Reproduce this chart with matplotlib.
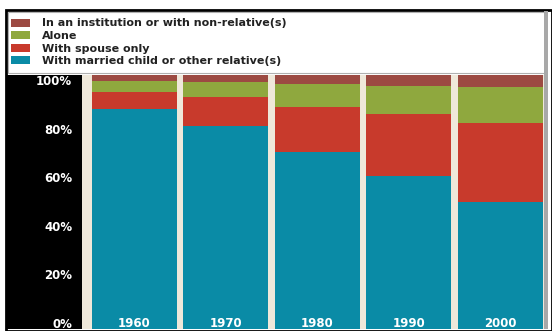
import numpy as np
import matplotlib
matplotlib.use('Agg')
from matplotlib import pyplot as plt
from matplotlib.patches import Rectangle

# living arrangements, shares in percent
years = ['1960', '1970', '1980', '1990', '2000']
married_child = [86.5, 79.9, 69.6, 60.2, 50.1]
spouse_only = [6.9, 11.4, 17.9, 24.3, 31.1]
alone = [4.4, 6.1, 9.0, 11.2, 14.0]
institution = [2.2, 2.6, 3.5, 4.3, 4.8]

labels = ['With married child or other relative(s)', 'With spouse only',
          'Alone', 'In an institution or with non-relative(s)']
colors = ['#0a8ba6', '#c83a2c', '#8fa83e', '#9c4a42']
yticks = [0, 20, 40, 60, 80, 100]

W, H = 552, 331
fig = plt.figure(figsize=(W / 100, H / 100), dpi=100)
fig.patch.set_facecolor('white')


def frac(x0, y0, x1, y1):
    # pixel box (top-left origin) -> figure fraction rect
    return [x0 / W, 1 - y1 / H, (x1 - x0) / W, (y1 - y0) / H]


# outer frame
fig.patches.append(Rectangle((6 / W, 0), (W - 6) / W, 1 - 10 / H, transform=fig.transFigure,
                             facecolor='none', edgecolor='black', lw=2.0, zorder=0))
# legend box
fig.patches.append(Rectangle((8 / W, 1 - 73 / H), 537 / W, 61 / H, transform=fig.transFigure,
                             facecolor='white', edgecolor='#b0b0b0', lw=0.8, zorder=1))
fig.patches.append(Rectangle((544 / W, 2 / H), 4 / W, 1 - 13 / H, transform=fig.transFigure,
                             facecolor='#a8a8a8', edgecolor='none', zorder=1))

# black label strip
lab = fig.add_axes(frac(7, 75, 82, 329))
lab.set_facecolor('black')
lab.set_xlim(0, 1)
lab.set_ylim(-2.06, 102.77)
lab.set_xticks([])
lab.set_yticks([])
for s in lab.spines.values():
    s.set_visible(False)
for v in yticks:
    lab.text(0.87, v, f'{v}%', transform=lab.get_yaxis_transform(), ha='right', va='center',
             color='white', fontsize=8.5, fontweight='bold')

# bars
ax = fig.add_axes(frac(82, 75, 545, 329))
ax.set_facecolor('#efe8da')
x = np.arange(len(years))
series = [married_child, spouse_only, alone, institution]
bottom = np.zeros(len(years))
handles = []
for vals, col, lbl in zip(series, colors, labels):
    vals = np.array(vals)
    b = ax.bar(x, vals, bottom=bottom, width=0.928, color=col, label=lbl, linewidth=0)
    handles.append(b)
    bottom += vals
ax.set_xlim(-0.568, 4.487)
ax.set_ylim(0, 100)
ax.set_xticks([])
ax.set_yticks([])
for s in ax.spines.values():
    s.set_visible(False)
for xi, yr in zip(x, years):
    ax.text(xi, 2.0, yr, ha='center', va='center', color='white', fontsize=8.5, fontweight='bold')

leg = fig.legend(handles[::-1], labels[::-1], loc='upper left',
                 bbox_to_anchor=(11 / W, 1 - 18.5 / H), frameon=False,
                 prop={'weight': 'bold', 'size': 8},
                 handlelength=1.7, handleheight=0.7, handletextpad=1.1,
                 labelspacing=0.23, borderpad=0, borderaxespad=0)
for t in leg.get_texts():
    t.set_color('#222222')

fig.savefig('out.png', dpi=100)
